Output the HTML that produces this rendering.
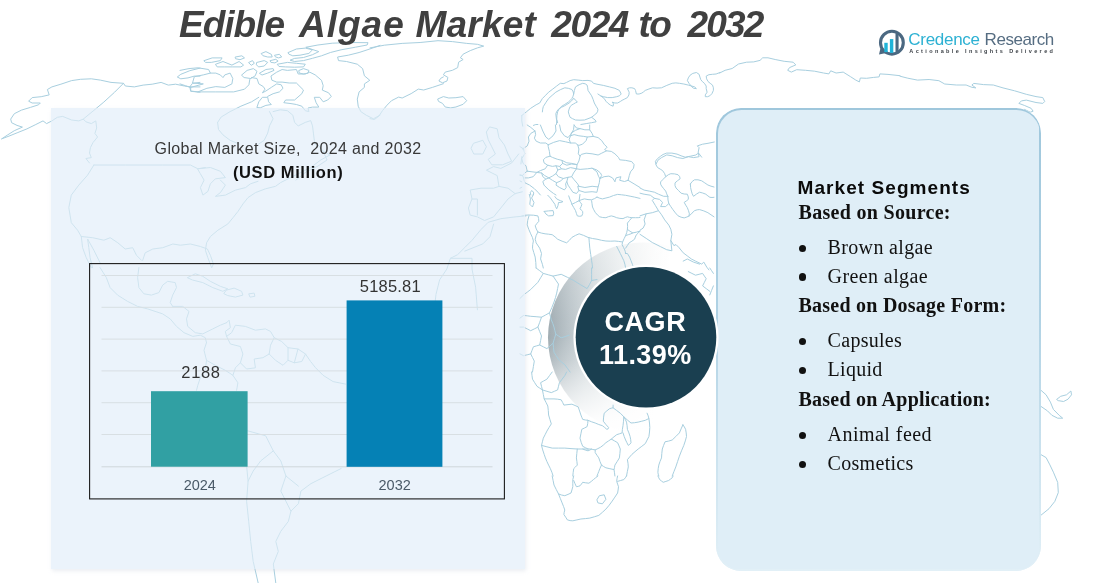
<!DOCTYPE html>
<html lang="en">
<head>
<meta charset="utf-8">
<title>Edible Algae Market 2024 to 2032</title>
<style>
*{margin:0;padding:0;box-sizing:border-box}
html,body{width:1117px;height:583px;overflow:hidden;background:#fff}
body{position:relative;font-family:"Liberation Sans",sans-serif}
.abs{position:absolute;white-space:nowrap;line-height:1}
svg.layer{position:absolute;left:0;top:0;width:1117px;height:583px;overflow:hidden}
.ttl{font-weight:bold;font-style:italic;color:#404040}
.b{font-weight:bold}
.serif{font-family:"Liberation Serif",serif;color:#111}
#lpanel{position:absolute;left:51px;top:108px;width:473.5px;height:461px;background:#ebf3fb;box-shadow:1px 2px 4px rgba(190,198,212,.3)}
#rpanel{position:absolute;left:715.5px;top:107.5px;width:325.2px;height:463px;border-radius:25px;background:#dfeef7;}
#rpanel:before{content:"";position:absolute;inset:0;border-radius:25px;padding:1.5px;background:linear-gradient(180deg,#9fc7dc 0%,#b0d2e4 45%,#e2f0f7 100%);-webkit-mask:linear-gradient(#000 0 0) content-box,linear-gradient(#000 0 0);-webkit-mask-composite:xor;mask:linear-gradient(#000 0 0) content-box exclude,linear-gradient(#000 0 0)}
.bul{position:absolute;width:7.4px;height:7.4px;border-radius:50%;background:#111;left:798.6px}
</style>
</head>
<body>
<svg class="layer" id="cres" viewBox="0 0 1117 583"><defs>
<linearGradient id="cg" x1="0" y1="0.45" x2="1" y2="0.55">
<stop offset="0" stop-color="#9fabb1"/><stop offset="0.10" stop-color="#b8c2c7"/><stop offset="0.22" stop-color="#d3dadd"/><stop offset="0.36" stop-color="#e9edee"/><stop offset="0.5" stop-color="#f8f9f9"/><stop offset="0.6" stop-color="#fff"/>
</linearGradient>
<linearGradient id="cv" x1="0" y1="0" x2="0" y2="1"><stop offset="0" stop-color="#fff" stop-opacity=".45"/><stop offset="0.2" stop-color="#fff" stop-opacity=".2"/><stop offset="0.4" stop-color="#fff" stop-opacity=".04"/><stop offset="0.5" stop-color="#fff" stop-opacity="0"/><stop offset="0.62" stop-color="#fff" stop-opacity=".15"/><stop offset="0.8" stop-color="#fff" stop-opacity=".6"/><stop offset="0.92" stop-color="#fff" stop-opacity=".9"/><stop offset="1" stop-color="#fff" stop-opacity="1"/></linearGradient></defs>
<circle cx="643" cy="337.5" r="95" fill="url(#cg)"/><circle cx="643" cy="337.5" r="95.6" fill="url(#cv)"/></svg>
<svg class="layer" id="map" viewBox="0 0 1117 583"><g id="mapg" fill="none" stroke="#a8cfdf" stroke-width="1" stroke-linejoin="round" stroke-linecap="round"><path d="M527.2 125.0 530.8 127.4 535.0 131.0 535.6 134.6 534.4 138.2 536.2 141.2 540.4 143.0 545.8 143.0 548.2 144.8M522.4 149.0 527.2 146.0 529.0 141.2 528.4 137.0 530.8 133.4 535.0 131.0M540.4 125.0 542.8 131.0 545.8 137.0 548.8 139.4 553.0 135.8 556.0 131.0 555.4 125.0M559.6 125.0 560.8 131.0 564.4 135.8 568.0 137.6 570.5 134.6 573.5 129.8 574.1 125.0M548.2 144.8 553.6 142.4 559.6 140.6 565.6 141.8 570.5 143.0 575.3 143.0 577.7 144.8 578.9 149.0 578.3 153.8 580.1 156.2 578.9 161.0 577.1 164.6 571.7 163.4 566.8 162.8 562.0 160.4 557.2 159.2 552.4 157.4 550.0 156.2 549.4 151.4 548.2 146.6 548.2 144.8M570.5 143.0 569.2 139.4 570.5 135.8 574.1 134.6 578.9 135.8 583.7 136.4 587.3 137.0 586.1 140.6 582.5 144.2 578.9 145.4 577.7 144.8M570.5 135.8 571.7 132.8 575.3 130.4 580.1 128.6 584.9 129.8 589.7 129.8 592.1 133.4 593.3 136.4 587.3 137.0M574.1 125.0 576.5 128.0 580.1 128.6M589.7 125.0 589.7 129.8M593.3 136.4 598.1 137.6 601.7 140.6 604.1 144.2 607.1 147.2 604.7 149.6 606.5 150.8 601.7 153.2 598.1 155.0 592.1 153.8 586.1 153.2 581.3 154.4 580.1 156.2M606.5 150.8 611.3 151.4 614.9 153.8 618.5 157.4 619.7 159.8 625.7 160.4 631.7 161.6 634.1 164.6 633.5 168.2 630.5 171.8 629.3 175.5 628.1 180.3 624.5 181.5 619.7 180.3 620.9 176.7 616.1 177.9 614.9 181.5M577.1 164.6 576.5 168.8 580.1 169.4 587.3 168.8 592.1 168.2 596.9 170.0 600.5 173.0 601.7 175.5 599.9 178.5 604.1 176.7 608.9 176.1 612.5 177.9 614.9 181.5M628.1 180.3 634.1 183.9 640.0 187.5M550.0 156.2 545.8 157.4 543.4 159.8 544.0 162.8 547.6 165.2 552.4 166.4 556.0 165.8 559.6 166.4 562.6 163.4 562.0 160.4M562.6 163.4 566.8 165.2 571.7 164.0 576.5 164.6M559.6 166.4 561.4 168.8 565.6 169.4 570.5 167.6 576.5 168.8M547.6 165.2 545.2 168.8 540.4 170.6 536.8 172.4 532.0 171.8 527.2 171.2M556.0 165.8 557.8 170.0 556.0 173.6 552.4 176.1 548.8 177.9 544.6 175.5 541.6 173.0 536.8 172.4M557.8 170.0 561.4 168.8M556.0 173.6 558.4 176.7 563.2 178.5 568.0 177.3 571.7 176.7 573.5 173.0 576.5 168.8M571.7 176.7 574.1 179.7 577.7 183.9 578.9 186.3 584.9 187.5 592.1 186.3 598.1 186.9 599.3 182.7 599.9 178.5M592.1 168.2 596.9 171.8 598.7 176.7 599.9 178.5M568.0 177.3 566.8 181.5 568.0 185.1 570.5 188.7 572.9 192.3 576.5 193.5 578.9 190.5 577.7 186.3 578.9 186.3M563.2 178.5 560.8 180.9 556.6 182.7 556.0 185.1 559.6 187.5 564.4 189.9 566.2 187.5 565.6 183.9 566.8 181.5M548.8 177.9 545.8 179.1 542.8 181.5 544.0 185.1 548.8 189.9 553.6 193.5 556.0 195.0M548.8 177.9 552.4 180.3 556.6 182.7M578.9 190.5 584.9 192.3 592.1 191.7 596.9 192.3 598.1 186.9M527.2 171.2 524.8 173.0 522.4 175.5 523.6 177.9 528.4 177.9 533.2 176.7 536.8 172.4M523.6 177.9 524.8 182.7 529.6 185.1 534.4 188.7 538.0 192.3 540.4 195.0M541.6 173.0 542.8 176.7 545.8 179.1M520.0 146.6 523.6 149.0 524.8 153.8 521.8 158.6 523.0 163.4 526.0 165.8 527.2 171.2M520.0 175.5 522.4 175.5M530.8 195.0 530.2 192.3 532.0 190.5 533.8 192.9 533.2 195.0M521.8 115.5 526.3 111.9 530.7 108.3 536.1 104.8 539.7 103.0 542.4 98.5 545.1 95.8 548.6 92.2 552.2 89.5 556.7 86.0 560.3 83.3 563.9 83.6 566.6 82.4 570.1 80.6 573.7 79.7 578.2 80.1 582.7 80.6 588.0 80.4 591.6 81.1 593.4 83.3 597.0 84.2 603.3 85.4 609.5 86.9 614.9 88.3 619.4 90.4 621.2 94.0 619.4 95.8 616.7 96.7 612.2 97.6 607.7 97.6 603.3 96.7 600.6 95.8 597.9 94.0M600.6 95.8 604.2 98.5 605.9 101.2 607.7 103.0 610.4 105.1 613.1 106.2 613.5 103.9 612.2 102.1 614.9 103.0 617.6 103.0 620.3 101.5 622.1 100.3 624.7 99.0 627.4 97.6 628.9 94.9 629.2 92.2 627.4 88.6 629.6 87.8 631.9 87.8 634.6 88.6 635.5 90.4 636.4 94.0 639.1 94.0 641.8 93.1 643.5 91.9 645.3 90.4 648.9 89.0 652.5 87.8 657.0 88.1 661.5 87.8 666.8 85.4 672.2 83.3 675.8 82.9 679.4 83.3 683.8 84.0 688.3 85.1 691.9 86.1 694.6 86.9 696.4 88.6 693.7 88.3 691.9 86.9 689.2 83.6 687.4 80.6 688.3 77.9 690.1 75.2 692.8 73.4 696.4 72.5 699.1 74.3 699.9 77.0 700.8 79.7 702.6 81.8 704.4 83.3 706.2 86.0 706.2 88.6 707.1 92.2 705.3 94.9 705.3 96.7 707.6 96.7 709.8 95.8 711.9 93.7 713.4 90.4 713.4 87.8 712.5 85.1 710.2 83.3 708.0 81.5 706.6 78.8 706.2 76.1 708.9 74.7 712.5 74.3 716.1 74.0 720.0 72.5M521.8 115.5 521.8 120.9 522.7 126.2M533.4 125.4 535.8 124.5 537.9 124.5M556.5 124.5 556.7 120.9 556.2 117.3 555.8 113.7 556.9 111.2 558.5 109.2 561.5 107.3 564.8 105.7 566.9 104.4 569.2 103.0 571.6 100.8 573.7 98.5M542.4 111.9 542.7 109.2 543.3 106.6 546.0 102.3 548.6 98.5 552.2 95.3 555.8 92.2 560.3 89.7 564.8 87.8 568.3 88.3 571.9 89.5 573.2 91.9 573.7 94.0 573.0 96.3 571.9 98.5 570.1 100.5 568.3 102.1 564.8 104.4 561.2 106.6 559.0 109.2 557.6 111.9 556.9 115.5 556.7 119.1 557.6 122.7M573.7 94.0 574.4 90.4 575.5 86.9 579.1 84.7 582.7 83.3 585.2 83.8 587.1 85.1 587.7 87.8 588.0 90.4 589.8 93.1 591.6 95.8 593.1 99.4 594.3 103.0 596.1 106.2 597.9 109.2 597.7 111.2 597.0 112.8 594.3 115.1 591.6 117.3 588.0 118.7 584.5 120.0 580.0 120.2 575.5 120.0 572.6 118.7 570.1 117.3 569.1 114.6 568.3 111.9 569.1 109.1 570.1 106.6 571.9 104.9 573.7 103.9 575.5 102.8 577.3 102.1 575.9 100.3 573.7 98.5M591.6 117.3 595.2 120.0 596.1 121.8 591.6 122.7 586.2 123.6 580.9 124.5M521.8 156.7 520.9 164.0M656.1 164.0 657.9 160.3 661.5 157.6 666.8 154.9 672.2 155.8 677.6 157.6 682.9 158.5 688.3 156.7 693.7 157.6 699.1 156.7 698.2 152.2 699.1 147.7 697.3 145.9 702.6 144.2 708.0 143.3 714.3 142.0M533.4 194.4 531.6 198.0 534.0 202.5 532.5 207.0 529.8 204.3 530.4 198.9 529.3 194.4M544.2 211.4 548.6 210.9 553.1 210.6 553.7 213.2 553.1 215.6 548.6 215.9 546.0 214.1 544.2 211.4M520.0 174.7 522.7 175.6M554.9 196.6 556.7 198.9 560.3 200.7 563.0 201.6 560.8 202.5 558.5 202.5 558.0 205.5 556.7 208.8 555.5 206.6 554.9 204.3 552.6 201.1 550.4 198.0 547.8 195.3M521.8 187.3 520.0 188.2M568.7 195.9 570.1 199.8 571.2 202.1 571.9 204.3 573.7 207.5 575.5 210.6 576.4 213.4 577.3 215.9 579.6 216.3 581.8 215.9 582.7 213.6 582.7 211.4 581.2 210.0 580.0 208.8 581.2 206.4 581.8 204.3 580.3 202.3 579.1 200.7 581.8 199.6 584.5 198.9 588.0 199.6 591.6 199.8 594.5 198.6 597.0 197.1M597.0 197.1 599.7 198.2 602.4 198.9 605.9 198.0 609.5 197.1 613.5 195.5 617.6 194.4 621.7 194.8 625.6 195.3 630.1 196.2 634.6 197.1 639.1 198.2 640.0 198.4M591.6 200.7 592.0 203.7 592.5 207.0 593.8 209.8 595.2 212.3 597.4 214.9 599.7 216.8 602.7 217.5 605.9 217.7 608.6 216.6 611.3 215.9 614.0 216.6 616.7 217.7 619.9 218.4 623.0 218.6 625.3 217.5 627.4 216.8 629.6 217.4 631.9 217.7 635.5 217.7 638.2 217.7 640.0 217.4M631.9 217.7 629.6 220.4 627.4 223.1 627.6 226.3 627.4 229.4 626.7 232.6 625.6 235.6 624.2 238.5 623.0 241.0 622.4 242.8 622.1 244.6 623.5 247.4 624.7 249.9 625.3 251.7 625.6 253.5M627.4 229.4 630.1 231.3 632.8 232.9 636.4 232.2 640.0 231.1M640.0 231.1 638.2 233.1 636.4 234.7 635.3 237.1 634.6 239.2 631.9 241.2 629.2 242.8 627.4 245.5 625.6 248.2M625.6 235.6 628.3 234.7 631.0 233.8 632.8 232.9M521.8 215.9 525.4 215.2 529.0 215.0 533.4 215.2 537.9 215.9 538.6 218.6 538.8 221.3 536.8 223.6 535.2 225.8 536.3 229.0 537.9 232.0 541.5 233.1 545.1 233.8 548.6 234.2 552.2 234.7 555.1 236.9 557.6 239.2 562.1 241.2 566.6 242.8 569.4 240.3 571.9 237.4 575.5 235.4 579.1 233.8 583.6 235.4 588.0 237.4 592.5 238.5 597.0 239.2 601.5 240.3 605.9 241.0 610.4 241.2 614.9 241.0 618.5 241.4 622.1 241.9M529.0 215.9 527.7 220.4 527.2 224.9 528.8 229.4 530.7 233.8 532.4 237.4 533.4 241.0 532.7 244.6 532.5 248.2 533.8 252.6 535.2 257.1 535.8 262.5 536.1 268.0M537.9 232.0 536.1 235.6 535.2 239.2 535.8 241.4 536.1 242.8 539.7 248.2 541.5 253.5 540.6 258.9 542.4 264.3 543.3 268.0M588.9 237.4 589.3 242.8 589.8 248.2 590.7 254.4 591.6 260.7 592.2 264.3 592.5 268.0M616.7 246.4 618.5 249.9 620.3 253.5 622.1 257.1 623.8 260.7 624.9 264.3 625.6 268.0M625.6 253.5 627.4 253.5 629.6 257.1 631.0 260.7 632.4 264.3 633.7 268.0M580.0 194.4 579.1 200.7M571.9 204.3 575.5 202.5 579.1 200.7M520.0 181.0 521.8 181.9M701.7 157.2 698.6 153.1 695.5 155.1 690.4 156.2 685.2 157.2 681.1 155.8 677.0 154.1 671.9 153.1 666.7 153.1 663.0 154.5 660.6 156.2 657.5 158.6 655.4 161.3 656.0 164.8 657.5 167.5 660.2 169.1 662.6 170.6 664.7 173.7 665.7 176.7 663.0 179.4 660.6 181.9 660.6 184.1 661.6 186.0 663.7 188.7 665.7 191.1 666.7 193.8 667.8 196.3M665.7 176.7 668.4 174.7 670.8 173.7 674.6 173.9 678.0 174.7 679.7 176.7 680.1 178.8 677.4 180.8 675.0 182.9 675.0 185.6 676.0 188.0 678.7 190.7 681.1 193.2 684.2 194.0 687.3 194.2 688.3 196.9 688.3 199.4 686.3 201.0 684.2 202.4 685.7 205.1 687.3 207.6 688.5 210.7 689.4 213.8 688.9 216.2M667.8 196.3 668.0 200.0 668.8 203.5 670.8 206.6 672.9 209.6 675.4 212.9 678.0 215.8 681.1 217.2 684.2 217.9 686.9 217.0 689.4 215.8 692.0 213.1 694.5 210.7 697.2 209.8 699.6 209.6 703.8 210.9 707.9 212.7 711.0 214.8 714.0 216.8M690.4 183.9 692.2 181.5 694.5 179.8 698.0 179.8 701.7 180.8 704.8 182.9 707.9 185.0 711.0 186.2 714.0 187.0M690.4 183.9 690.6 187.6 691.4 191.1 692.2 193.8 693.5 196.3 696.6 194.0 699.6 192.2 702.7 193.0 705.8 194.2 707.9 195.9 709.9 197.3 712.0 197.5 714.0 197.3M640.0 188.0 644.1 190.1 649.3 191.1 654.4 192.2 658.5 194.2 663.7 196.3 667.8 196.3M640.0 193.2 644.1 194.2 650.3 195.2 654.4 198.3 652.3 200.4 655.4 205.5 658.5 210.7 652.3 212.7 646.2 213.8 640.0 215.8M654.4 198.3 659.5 199.4 662.6 202.4 660.6 206.6 665.7 206.6 668.8 203.5M658.5 210.7 661.6 214.8 664.7 219.9 668.8 225.1 670.8 229.2 671.9 234.3 670.8 240.5 673.9 245.6 676.0 244.6 679.1 247.7 683.2 252.8 687.3 255.9 691.4 259.0 695.5 261.1 701.7 264.1 703.8 262.1 706.8 267.2 708.9 269.9M646.2 213.8 644.1 219.9 645.1 224.0 643.1 228.1 640.0 230.2M640.0 234.3 646.2 238.4 652.3 242.5 660.6 246.7 666.7 249.7 671.9 250.8 670.8 240.5M683.2 261.1 687.3 259.0 693.5 262.1 699.6 264.1M536.1 268.0 539.7 270.7 543.3 273.4 548.3 274.8 553.1 276.1 555.8 280.2 558.5 284.1 557.6 288.6 556.7 293.1 555.5 297.5 554.0 302.0 551.9 307.4 549.5 312.8 545.4 315.1 541.5 317.2 536.1 316.7 530.7 316.3 527.2 315.8 523.6 315.4 520.0 318.1M553.1 276.1 557.2 275.2 561.2 274.3 567.4 277.3 573.7 280.5 580.5 284.7 587.1 288.6 589.5 284.5 591.6 280.5 591.6 274.3 591.6 268.0M591.6 280.5 594.3 280.0 597.0 279.6M549.5 312.8 550.4 316.3 551.3 319.9 552.8 323.5 554.0 327.1 554.9 330.7 555.8 334.2 558.5 336.0 561.2 337.8 565.1 336.6 569.2 335.1M555.8 334.2 554.4 338.7 553.1 343.2 553.5 347.7 554.0 352.2 556.2 355.7 558.5 359.3 561.5 362.0 564.8 364.7 567.4 368.3 570.1 372.0M541.5 317.2 539.7 322.3 537.9 327.1 534.3 328.9 530.7 330.7 527.2 328.9 523.6 327.1 520.0 327.1M537.9 327.1 539.7 331.6 541.5 336.0 540.6 340.5 539.7 345.0 536.5 345.9 533.4 346.8 532.0 350.4 530.7 353.9 532.5 357.5 534.3 361.1 533.4 366.5 532.5 372.0M530.7 353.9 527.2 354.8 523.6 355.7 520.0 353.9M539.7 345.0 543.3 346.8 546.9 348.6 550.1 345.9 553.1 343.2M543.3 273.4 540.6 277.8 537.9 282.3 534.3 285.9 530.7 289.5 527.2 292.2 523.6 294.9 520.0 298.4M688.3 271.6 691.9 273.4 695.5 275.2 699.1 274.3 702.6 273.4 704.4 276.1 706.2 278.7 704.4 282.3 702.6 285.9 706.2 288.6 709.8 291.3M709.8 268.0 711.6 270.7 713.4 273.4M713.4 285.9 711.6 290.4 709.8 294.9M531.6 372.0 532.0 375.6 532.5 379.2 534.7 382.7 537.0 386.3 539.7 388.1 542.4 389.9 543.3 394.4 544.2 398.9 546.0 402.4 547.8 406.0 548.3 410.5 548.6 415.0 549.9 419.4 551.3 423.9 549.0 427.5 546.9 431.1 545.1 434.7 543.3 438.2 542.4 441.8 541.5 445.4 542.7 449.9 544.2 454.4 545.4 457.9 546.9 461.5 548.6 465.1 550.4 468.7 551.9 472.3 553.1 476.0M542.4 389.9 541.5 386.3 540.6 382.7 543.6 381.0 546.9 379.2 549.5 375.6 552.2 372.0M542.4 389.9 546.9 391.3 551.3 392.6 554.4 391.3 557.6 389.9 558.5 386.3 559.4 382.7 562.1 379.2 564.8 375.6 566.6 372.0M544.2 398.9 549.0 398.9 554.0 398.9 557.6 399.2 561.2 399.8 562.6 402.4 563.9 405.1 568.0 404.6 571.9 404.2 575.1 405.5 578.2 406.9 579.6 411.0 580.9 415.0 581.8 417.3 582.7 419.4 585.4 420.0 588.0 420.3 587.7 423.6 587.1 426.6 584.5 428.0 581.8 429.3 580.9 433.8 580.0 438.2 581.2 442.4 582.7 446.3 585.4 447.7 588.0 449.0M541.5 445.4 546.9 446.8 552.2 448.1 558.5 448.1 564.8 448.1 571.0 448.6 577.3 449.0 582.7 449.0 588.0 449.0M588.0 420.3 591.6 421.8 595.2 423.0 598.8 424.5 602.4 425.7 604.7 427.5 606.8 429.3 608.1 428.9 608.6 427.5 605.9 424.5 603.3 421.2 603.6 417.1 604.2 413.2 606.8 410.9 609.5 408.7 611.3 408.2 613.1 407.8 613.1 405.1M613.1 407.8 616.7 410.5 620.3 413.2 622.1 415.0 623.8 416.8 623.5 421.2 623.0 425.7 622.4 429.3 622.1 432.9 619.4 433.8 616.7 434.7 614.0 436.8 611.3 439.1 608.6 440.9 605.9 442.7 603.3 445.1 600.6 447.2 597.9 448.6 595.2 449.9 592.9 449.5 590.7 449.0 588.0 449.0M623.8 416.8 625.3 419.4 626.5 422.1 627.1 425.7 627.4 429.3 628.9 432.9 630.1 436.5 630.7 439.7 631.0 442.7 629.8 444.3 628.3 445.4 626.9 442.7 625.6 440.0 624.2 436.5 623.0 432.9M623.8 416.8 627.4 420.0 631.0 423.0 634.6 422.7 638.2 422.1 641.8 421.2 645.3 420.3 647.1 419.4 648.9 418.6 648.2 415.9 647.1 413.2M648.9 418.6 649.5 423.0 649.8 427.5 649.5 432.0 648.9 436.5 647.1 440.0 645.3 443.6 641.8 446.3 638.2 449.0 635.0 451.7 631.9 454.4 629.6 457.0 627.4 459.7 628.0 463.3 628.3 466.9 627.4 471.4 626.5 476.0M611.3 439.1 614.5 440.9 617.6 442.7 619.0 445.9 620.3 449.0 619.9 453.5 619.4 457.9 617.2 461.5 614.9 465.1 614.5 467.4 614.0 469.6 609.9 468.7 605.9 467.8 603.6 466.5 601.5 465.1 600.0 461.5 598.8 457.9 597.0 455.3 595.2 452.6 595.2 449.9M577.3 449.0 576.8 453.5 576.4 457.9 576.9 461.5 577.3 465.1 575.5 466.9 573.7 468.7 573.2 472.3 572.8 476.0M582.7 449.0 585.4 450.1 588.0 450.8 589.8 450.1 591.6 449.0M601.5 465.1 600.0 468.3 598.8 471.4 597.9 473.7 597.0 476.0M614.0 469.6 614.5 472.8 614.9 476.0M682.9 424.8 684.4 427.0 685.6 429.3 686.2 432.9 686.5 436.5 685.3 440.9 683.8 445.4 681.5 450.8 679.4 456.2 677.6 461.5 675.8 466.9 674.0 471.4 672.2 476.0M682.9 424.8 681.1 428.9 679.4 432.9 675.8 436.5 672.2 440.0 668.6 441.1 665.0 441.8 663.6 445.4 662.3 449.0 661.8 453.5 661.5 457.9 660.0 461.5 658.8 465.1 658.2 468.7 657.9 472.3 658.2 474.1 658.8 476.0M552.2 476.0 553.1 480.5 554.0 485.0 556.2 489.4 558.5 493.9 560.3 498.4 562.1 502.9 563.5 506.4 564.8 510.0 564.2 512.3 563.9 514.5 565.7 517.2 567.4 519.9 570.1 520.6 572.8 520.8 576.9 519.9 580.9 519.0 585.4 518.6 589.8 518.1 594.3 516.8 598.8 515.4 602.4 512.3 605.9 509.1 609.2 505.2 612.2 501.1 614.9 497.1 617.6 493.0 618.1 490.0 618.5 486.7 617.6 484.1 616.7 481.4 617.0 478.7 617.6 476.0M558.5 493.9 561.5 495.0 564.8 495.7 568.0 494.4 571.0 493.0 571.9 490.0 572.8 486.7 572.8 483.2 572.8 479.6 573.7 476.0M573.7 480.5 575.0 483.7 576.4 486.7 578.2 486.4 580.0 485.8 581.4 484.1 582.7 482.3 585.7 482.8 588.9 483.2 591.3 481.4 593.4 479.6 595.6 477.8 597.9 476.0M599.7 495.7 604.2 494.8 605.9 499.3 602.4 503.8 597.9 502.9 597.0 500.2ZM617.6 481.4 620.6 480.5 623.8 479.6 625.3 477.8 626.5 476.0M657.9 476.0 658.8 477.8 659.7 479.6 661.5 481.0 663.2 482.3 665.9 481.4 668.6 480.5 670.4 479.2 672.2 477.8 673.1 476.0M93.9 165.0 87.6 175.1 78.8 185.1 71.3 195.1 68.8 207.6 71.3 222.7 77.6 230.2 81.3 236.5M93.9 165.0 125.2 165.0 162.8 165.0 190.4 165.0 197.9 168.8 205.4 167.5M197.9 168.8 210.4 167.5 220.4 171.3 225.4 177.6 215.4 178.8 210.4 183.8 207.9 191.4 202.9 195.1 200.4 187.6 204.1 180.1 200.4 173.8ZM220.4 180.1 225.4 185.1 220.4 192.6 215.4 196.4 225.4 195.1 235.5 190.1 245.5 187.6 250.5 183.8 258.0 181.3M329.9 155.0 320.7 160.0 310.7 167.5 300.6 172.6 290.6 177.6 280.6 182.6 275.6 186.3 265.5 188.8 255.5 192.6 248.0 197.6 243.0 203.9 238.0 211.4 233.0 217.7 227.9 223.9 217.9 230.2 210.4 236.5 206.6 242.7 205.4 250.3 207.9 257.8 211.7 267.8 213.4 264.0 210.4 255.3 207.4 249.0 200.4 246.5 190.4 244.0 180.3 245.2 172.8 244.0 162.8 247.7 152.8 249.0 145.2 252.8 142.7 260.3M81.3 236.5 92.6 237.7 103.9 240.2 110.2 237.7 117.7 242.7 125.2 249.0 132.7 247.7 136.5 255.3 141.5 260.3M81.3 236.5 82.6 247.7 86.3 257.8 91.4 267.8M92.6 267.8 90.1 257.8 88.8 247.7 87.6 239.0 93.9 250.3 100.1 262.8M246.6 466.0 248.1 481.1 246.6 501.2 248.7 521.3 250.7 541.4 253.2 561.5 258.2 583.1M341.2 468.5 326.1 476.0 311.0 483.6 300.9 491.1 298.4 503.7 290.9 511.2 288.4 521.3 280.8 531.3 275.8 541.4 278.3 551.4 273.3 564.0 275.8 583.1M247.6 430.8 265.7 435.8 273.3 450.9 280.8 460.9 285.9 476.0 298.4 486.1M273.3 450.9 260.7 460.9 253.2 471.0 248.1 481.1M285.9 476.0 280.8 491.1 290.9 511.2M490.0 127.0 497.2 128.8 499.0 137.8 504.4 145.0 508.0 154.0 511.6 161.2 502.6 164.8 491.8 164.8 488.2 159.4 495.4 154.0 491.8 146.8 488.2 139.6 486.4 132.4ZM473.8 143.2 482.8 140.3 486.4 146.8 482.8 154.0 473.8 154.0 471.2 148.6ZM518.7 154.0 511.6 163.0 500.8 168.4 493.6 166.6 486.4 170.2 497.2 175.6 499.0 186.4 493.6 188.2 481.0 188.2 470.2 190.0 472.0 199.0 468.4 208.0 470.2 215.1 477.4 216.9 484.6 220.5 493.6 216.9 500.8 208.0 508.0 199.0 515.1 193.6 522.3 191.8M472.0 199.0 477.4 199.0 477.4 215.1M499.0 186.4 508.0 188.2 515.1 193.6M525.9 215.9 515.1 216.9 500.8 218.7 488.2 222.3 481.0 229.5 472.0 240.3 464.8 247.5 457.6 254.7 450.4 258.3 446.8 269.1 439.6 279.9 436.0 294.3 434.2 309.8M493.6 224.1 490.0 236.7 482.8 243.9 464.8 251.1M450.4 258.3 472.0 258.3 472.0 269.1 475.6 287.1 477.4 309.8M100.0 267.5 106.3 277.5 110.1 287.6 117.6 295.1 127.6 301.4 137.6 306.4 147.6 308.9 155.2 311.4M138.9 267.5 137.6 277.5 138.9 287.6 143.9 293.8 151.4 295.1 158.9 292.6 162.7 285.1 167.7 281.3 175.2 282.6 176.5 287.6 172.7 295.1 170.2 302.6 172.7 306.4M155.2 311.4 162.7 313.9 170.2 318.9 176.5 326.4 184.0 332.7 192.8 336.4 200.3 335.2 205.3 337.7 206.5 342.7M172.7 306.4 182.7 306.4 189.0 311.4 186.5 318.9 187.7 326.4 195.3 332.7 202.8 333.9 212.8 328.9 220.3 325.2 226.6 322.7M206.5 342.7 204.0 350.2 206.5 360.3 205.3 370.3 200.3 377.8 197.8 385.3 196.5 390.3M226.6 322.7 229.1 320.2 230.4 327.7 225.3 331.4 226.6 336.4 231.6 332.7 235.4 325.2 245.4 326.4 255.4 330.2 265.4 328.9 270.5 331.4 274.2 337.7 281.7 341.5 288.0 347.7 298.0 349.0 305.5 354.0 310.6 361.5 315.6 367.8 323.1 375.3 333.1 381.6 345.6 384.1M226.6 336.4 230.4 344.0 240.4 346.5 242.9 354.0 240.4 362.8 246.6 369.0 255.4 367.8 254.2 359.0 262.9 357.7 269.2 354.0 270.5 345.2 274.2 337.7M269.2 354.0 275.5 360.3 283.0 365.3 288.0 360.3 288.0 347.7M288.0 360.3 294.3 362.8 298.0 349.0M294.3 362.8 301.8 361.5 305.5 354.0M240.4 362.8 235.4 367.8 232.9 375.3 237.9 382.8 236.6 390.3M206.5 360.3 215.3 365.3 225.3 370.3 232.9 375.3M187.7 277.5 195.3 273.8 202.8 276.3 210.3 281.3 220.3 286.3 227.8 288.8 222.8 291.3 212.8 287.6 202.8 282.6 192.8 280.1ZM226.6 290.1 234.1 288.1 241.6 291.3 242.9 295.1 235.4 297.1 227.8 295.6 224.1 293.8ZM249.1 293.8 254.2 293.1 254.9 296.3 250.4 297.1ZM315.2 144.0 319.0 146.0 323.0 151.0 330.0 155.0M323.0 151.0 327.0 160.0 318.0 166.0 306.0 172.0 296.0 180.0M1041.1 390.4 1046.1 394.8 1050.4 402.1 1053.4 409.4 1059.2 415.3 1062.7 418.2 1057.7 418.2 1051.9 415.3 1047.5 410.9 1041.1 406.5M1056.9 399.2 1060.7 396.3 1066.5 394.8 1070.9 391.0 1071.5 394.8 1068.0 399.2 1063.6 401.5 1058.6 400.7ZM1041.1 454.7 1046.1 457.6 1049.9 464.9 1053.4 472.2 1057.7 482.4 1058.3 492.6 1054.8 501.4 1049.0 508.7 1041.1 515.1M1.8 138.8 7.2 135.2 14.3 130.7 22.4 127.1 17.0 125.4 11.6 122.7 10.7 119.1 14.3 113.7 21.5 110.1 30.4 107.4 38.5 104.8 40.3 103.0 32.2 103.0 28.6 101.2 32.2 97.6 41.2 96.7 49.2 94.9 47.4 89.5 51.9 86.9 60.9 84.2 71.6 80.6 80.6 79.3 91.3 78.8 100.3 80.1 111.0 82.4 123.5 83.3 125.3 86.0 134.3 86.9 143.2 85.1 152.2 84.2 161.1 82.4 168.3 85.1 175.5 84.2 184.4 86.0 189.8 86.9 200.0 86.9M1.8 138.8 9.0 136.1 17.9 132.5 26.9 128.9 35.8 124.5 43.0 120.9 46.6 123.6 51.9 120.9 57.3 117.3 62.7 116.4 71.6 120.0 78.8 120.9 83.3 119.1 85.9 121.8 91.3 123.6 95.8 120.9 96.7 128.0 94.9 133.4 97.6 137.0 93.1 142.4 90.4 147.7 89.5 153.1 91.3 157.6 85.9 158.5 89.5 163.0M123.5 83.3 114.6 92.2 103.8 102.1 93.1 111.0 83.3 119.1M200.0 68.1 189.8 70.7 180.8 74.3 177.3 77.0 180.8 78.8 188.0 77.9 194.3 76.1 200.0 76.1M189.8 86.9 192.5 83.3 200.0 82.4M189.8 86.9 190.7 91.3 200.0 92.2M180.0 70.4 189.0 68.6 197.9 67.8 208.6 69.5 210.4 73.1 203.3 74.9 194.3 76.7 192.5 83.0 203.3 83.9 190.7 87.4 190.7 91.0 197.9 91.9 206.9 88.3 215.8 86.6 224.8 87.4 231.9 83.9 232.8 78.5 230.1 73.1 224.8 74.9 223.0 77.6 220.3 74.9 215.8 73.1 210.4 73.1M180.0 83.9 185.4 85.7 190.7 87.4M197.9 91.9 215.8 91.9 233.7 91.9 244.5 89.2 248.9 84.8 249.8 79.4 251.6 77.6M204.2 60.6 212.2 57.9 222.1 57.9 220.3 60.6 211.3 62.4 206.0 62.4ZM215.8 64.2 223.0 61.5 231.9 65.1 239.1 61.5 243.6 65.1 240.9 66.9 232.8 66.9 224.8 66.9 217.6 66.9ZM235.5 57.0 241.8 55.8 244.5 57.9 240.0 59.7 235.9 58.8ZM248.9 62.4 252.5 60.6 254.3 63.3 251.6 65.1ZM257.0 62.4 264.2 60.6 267.7 62.4 264.2 66.0 258.8 66.9 256.6 65.1ZM261.5 53.4 265.9 51.6 271.3 54.3 272.2 57.0 267.7 57.0 263.3 55.8ZM274.9 55.2 279.4 54.3 281.7 57.0 278.5 57.9 275.8 57.0ZM270.4 60.6 275.8 59.3 278.1 61.1 274.9 62.9 271.3 62.4ZM288.3 52.5 296.4 49.0 305.3 48.1 312.5 49.8 308.9 53.4 300.0 55.2 292.8 55.8 289.2 54.3ZM306.2 47.2 317.9 45.0 332.2 43.2 350.1 42.5 368.0 42.7 367.1 45.0 355.5 47.2 341.1 49.8 330.4 52.5 321.5 55.8 312.5 58.3 303.5 60.6 294.6 61.5 290.1 60.2 294.6 58.4 303.5 57.5 312.5 54.7 318.8 51.6 313.4 49.8ZM277.6 64.2 287.4 62.4 296.4 63.3 305.3 64.2 303.5 66.9 294.6 67.2 285.6 66.9 279.4 66.5ZM241.8 74.9 247.1 70.4 253.4 68.6 257.0 71.3 255.2 75.8 250.7 78.5 244.5 77.6ZM259.7 73.1 265.9 69.5 273.1 68.6 274.0 70.4 267.7 73.1 262.4 74.9ZM271.3 75.8 276.7 72.2 282.1 69.5 287.4 70.4 296.4 69.5 298.2 74.0 305.3 74.0 309.8 72.2 315.2 74.9 321.5 80.3 323.2 85.7 322.3 90.1 328.6 92.8 331.3 96.4 327.7 100.0 323.2 101.8 319.7 97.3 314.3 97.3 316.1 102.7 318.8 107.1 312.5 107.1 308.0 108.0 308.9 111.6 305.3 110.7 301.8 106.2 296.4 104.5 291.0 103.6 283.8 102.7 285.6 100.0 294.6 100.0 301.8 93.7 303.5 90.1 296.4 83.0 289.2 83.0 282.1 82.1 276.7 82.1 272.2 80.3ZM299.1 70.4 303.5 68.6 308.9 70.4 308.0 73.1 303.5 74.0 299.6 73.1ZM257.0 107.1 258.8 101.8 262.4 97.3 267.7 97.3 268.6 101.8 271.3 104.5 265.9 105.4 260.6 107.7ZM251.6 77.6 257.0 78.5 258.8 83.9 263.3 86.6 265.0 89.2 262.4 92.8 265.9 91.0 271.3 87.4 276.7 83.9 281.2 84.8 283.0 88.3 279.4 91.9 273.1 93.7 267.7 96.4M217.6 122.4 221.2 117.0 230.1 111.6 240.9 106.2 251.6 101.8 258.8 97.3M217.6 122.4 218.5 129.5 223.0 134.9 230.1 140.3 239.1 144.0M269.5 111.6 273.1 118.8 269.5 125.9 267.7 133.1 264.2 140.3 258.8 144.0M273.1 111.6 280.3 109.8 287.4 110.7 292.8 115.2 294.6 122.4 298.2 125.9 305.3 122.4 310.7 120.6 312.5 125.9 313.4 133.1 314.3 140.3 315.2 144.0M380.0 45.4 369.8 49.0 359.1 52.5 348.3 55.2 337.6 57.0 338.5 60.6 346.5 61.5 357.3 64.2 362.6 68.6 364.4 75.8 369.8 80.3 364.4 83.9 364.4 87.4 359.1 91.9 357.3 99.1 358.2 106.2 360.8 111.6 366.2 115.2 373.4 118.8 380.0 115.2M370.0 47.9 384.3 45.2 402.2 43.4 420.1 42.5 438.0 40.7 452.4 41.6 466.7 43.4 477.4 44.3 483.7 46.1 477.4 47.9 470.3 50.6 463.1 54.2 460.4 57.8 463.1 59.5 458.6 62.2 457.7 67.6 452.4 70.3 445.2 72.1 443.4 74.8 447.9 77.4 447.0 81.0 442.5 82.8 438.9 81.0 440.7 78.3 443.4 76.9M443.4 83.7 432.7 87.3 423.7 90.0 418.3 89.1 411.2 93.6 402.2 98.0 398.6 97.1 391.5 100.7 387.0 105.2 382.5 110.6 379.0 115.9 374.5 119.5 370.0 118.6M438.0 98.9 443.4 96.6 448.8 98.0 455.9 97.7 463.1 96.6 466.7 100.7 463.1 104.3 455.9 107.0 450.6 107.9 445.2 107.0 442.5 103.4 438.9 101.6ZM719.7 73.0 725.1 70.3 732.2 68.5 738.5 64.0 746.6 62.2 753.7 61.9 760.0 60.4 762.7 57.8 768.0 57.8 775.2 59.5 784.2 61.3 793.1 62.2 795.8 64.9 789.5 67.6 787.7 70.3 791.3 72.1 796.7 69.7 805.6 70.3 814.6 71.2 823.5 73.0 828.9 73.9 830.7 70.8 836.1 73.0 843.2 72.1 850.4 76.6 855.8 80.1 859.4 81.9 860.3 78.0 866.5 78.3 873.7 77.4 879.1 76.9 879.9 73.9 888.0 74.4 900.0 75.7M900.0 76.2 907.8 78.2 917.5 80.1 929.1 79.5 938.9 80.7 944.7 84.0 956.3 85.0 966.1 85.0 971.9 87.3 975.8 87.9 971.9 85.0 973.8 83.4 983.5 84.6 993.3 85.0 1003.0 87.9 1014.6 90.8 1026.3 94.3 1036.0 96.6 1042.8 97.6 1044.7 101.5 1042.8 103.4 1036.0 102.5 1026.3 100.1 1021.4 100.9 1018.9 103.4 1024.3 105.4 1031.1 108.3 1033.1 111.2 1030.2 112.2 1024.3 109.3"/></g></svg>
<div id="lpanel"></div>
<svg class="layer" id="map2" viewBox="0 0 1117 583" style="opacity:.42;clip-path:polygon(51px 108px,524.5px 108px,524.5px 569px,51px 569px)"><use href="#mapg"/></svg>
<div id="rpanel"></div>

<svg class="layer" id="fg" viewBox="0 0 1117 583">
<defs>
</defs>
<g stroke="#d8dfe3" stroke-width="1">
<path d="M101.5 275.5H492.5M101.5 307.3H492.5M101.5 339.1H492.5M101.5 370.9H492.5M101.5 402.7H492.5M101.5 434.5H492.5"/>
<path d="M101.5 466.8H492.5" stroke="#cfd6da"/>
</g>
<rect x="151" y="391.2" width="96.6" height="75.5" fill="#31a0a3"/>
<rect x="346.6" y="300.4" width="95.8" height="166.4" fill="#0581b5"/>
<rect x="89.6" y="263.6" width="414.8" height="235.3" fill="none" stroke="#1c1c1c" stroke-width="1.1"/>
<circle cx="646" cy="337.2" r="72.6" fill="#fff"/>
<circle cx="646" cy="337.2" r="70.3" fill="#1a3f50"/>
</svg>
<h1 class="abs ttl" style="left:0;top:0;font-size:37px"><span style="position:absolute;left:179.0px;top:6.0px;letter-spacing:-1.0px">Edible</span> <span style="position:absolute;left:299.0px;top:6.0px;letter-spacing:1.0px">Algae</span> <span style="position:absolute;left:415.5px;top:6.0px;letter-spacing:0.2px">Market</span> <span style="position:absolute;left:551.3px;top:6.0px;letter-spacing:-1.4px">2024</span> <span style="position:absolute;left:638.5px;top:6.0px;letter-spacing:-1.6px">to</span> <span style="position:absolute;left:687.4px;top:6.0px;letter-spacing:-1.8px">2032</span></h1>
<div class="abs " style="left:154.6px;top:140.6px;font-size:16px;letter-spacing:0.345px;color:#383838;">Global Market Size,  2024 and 2032</div>
<div class="abs b" style="left:233.0px;top:164.3px;font-size:16.5px;letter-spacing:0.583px;color:#111;">(USD Million)</div>
<div class="abs " style="left:181.3px;top:363.8px;font-size:16.5px;letter-spacing:0.667px;color:#333;">2188</div>
<div class="abs " style="left:359.8px;top:278.2px;font-size:16.5px;letter-spacing:0.2px;color:#333;">5185.81</div>
<div class="abs " style="left:183.8px;top:478.3px;font-size:14.5px;letter-spacing:-0.067px;color:#4a5a68;">2024</div>
<div class="abs " style="left:378.5px;top:478.0px;font-size:14.5px;letter-spacing:0.0px;color:#4a5a68;">2032</div>
<div class="abs b" style="left:797.5px;top:178.2px;font-size:19px;letter-spacing:1.071px;color:#0a0a0a;">Market Segments</div>
<div class="abs serif b" style="left:798.5px;top:202.2px;font-size:20px;letter-spacing:0.307px;">Based on Source:</div>
<div class="abs serif b" style="left:798.5px;top:295.2px;font-size:20px;letter-spacing:0.24px;">Based on Dosage Form:</div>
<div class="abs serif b" style="left:798.5px;top:388.5px;font-size:20px;letter-spacing:0.22px;">Based on Application:</div>
<div class="abs serif" style="left:827.6px;top:236.8px;font-size:20px;letter-spacing:0.34px;">Brown algae</div>
<div class="bul" style="top:244.5px"></div>
<div class="abs serif" style="left:827.6px;top:265.6px;font-size:20px;letter-spacing:0.4px;">Green algae</div>
<div class="bul" style="top:273.3px"></div>
<div class="abs serif" style="left:827.6px;top:329.8px;font-size:20px;letter-spacing:0.286px;">Capsules</div>
<div class="bul" style="top:337.5px"></div>
<div class="abs serif" style="left:827.6px;top:359.0px;font-size:20px;letter-spacing:0.28px;">Liquid</div>
<div class="bul" style="top:366.7px"></div>
<div class="abs serif" style="left:827.6px;top:423.8px;font-size:20px;letter-spacing:0.46px;">Animal feed</div>
<div class="bul" style="top:431.5px"></div>
<div class="abs serif" style="left:827.6px;top:452.8px;font-size:20px;letter-spacing:0.3px;">Cosmetics</div>
<div class="bul" style="top:460.5px"></div>
<div class="abs b" style="left:604.4px;top:308.8px;font-size:27px;letter-spacing:0.6px;color:#fff;">CAGR</div>
<div class="abs b" style="left:598.9px;top:341.8px;font-size:27px;letter-spacing:0.48px;color:#fff;">11.39%</div>

<svg class="layer" id="logo" viewBox="0 0 1117 583">
<g>
<circle cx="891.9" cy="42.7" r="11.4" fill="none" stroke="#4b6881" stroke-width="3.1"/>
<path d="M880.4 48.5L879 54.5L885 53.2Z" fill="#4b6881"/>
<rect x="884.3" y="42.8" width="3.4" height="9.3" fill="#1fb3d8"/>
<rect x="889.9" y="39.1" width="3.4" height="13.8" fill="#1fb3d8"/>
<rect x="895.5" y="32.6" width="3.1" height="20.6" fill="#4b6881"/>
</g>
</svg>
<div class="abs " style="left:908.3px;top:30.7px;font-size:17px;letter-spacing:-0.286px;color:#2db1d3;">Credence</div>
<div class="abs " style="left:984.6px;top:30.7px;font-size:17px;letter-spacing:-0.457px;color:#566d82;">Research</div>
<div class="abs b" style="left:909.3px;top:49.2px;font-size:5.5px;letter-spacing:2.379px;color:#3a3f45;">Actionable Insights Delivered</div>
</body>
</html>
